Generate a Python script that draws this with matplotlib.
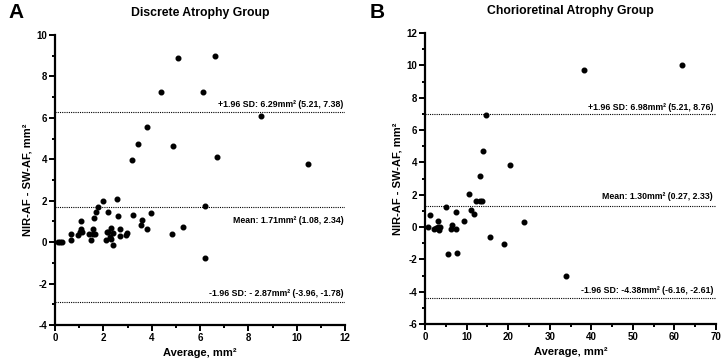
import matplotlib
matplotlib.use("Agg")
import matplotlib.pyplot as plt
from matplotlib.ticker import MultipleLocator

plt.rcParams['font.family'] = ['Liberation Sans', 'DejaVu Sans']
plt.rcParams['font.weight'] = 'bold'
plt.rcParams['axes.unicode_minus'] = False

# Panel A data: Discrete Atrophy Group
a_avg = [0.12, 0.21, 0.29, 0.65, 0.68, 0.95, 1.03, 1.06, 1.09, 1.12, 1.42, 1.50, 1.58, 1.58,
         1.66, 1.63, 1.69, 1.77, 1.99, 2.10, 2.16, 2.19, 2.21, 2.27, 2.33, 2.30, 2.38, 2.41,
         2.57, 2.60, 2.68, 2.68, 2.92, 2.97, 3.22, 3.58, 3.55, 3.80, 3.96, 4.83, 5.28, 6.19,
         6.22, 3.19, 3.43, 3.81, 4.39, 4.90, 5.08, 6.11, 6.61, 6.69, 8.54, 10.47]
a_diff = [0.0, 0.0, 0.0, 0.08, 0.40, 0.34, 0.48, 0.64, 1.02, 0.47, 0.40, 0.11, 0.62, 0.37,
          0.37, 1.16, 1.47, 1.68, 2.00, 0.10, 0.50, 1.45, 0.47, 0.26, 0.69, 0.16, 0.45, -0.16,
          2.07, 1.27, 0.65, 0.32, 0.34, 0.46, 1.30, 1.06, 0.82, 0.63, 1.42, 0.40, 0.73, 1.74,
          -0.77, 3.97, 4.74, 5.56, 7.26, 4.64, 8.87, 7.26, 8.98, 4.13, 6.10, 3.76]
a_mean, a_upper, a_lower = 1.71, 6.29, -2.87
a_labels = ["+1.96 SD: 6.29mm² (5.21, 7.38)",
            "Mean: 1.71mm² (1.08, 2.34)",
            "-1.96 SD: - 2.87mm² (-3.96, -1.78)"]

# Panel B data: Chorioretinal Atrophy Group
b_avg = [0.8, 1.13, 2.09, 2.57, 3.05, 3.05, 3.37, 3.70, 5.15, 5.46, 6.25, 6.57, 7.53, 7.53,
         7.69, 9.3, 10.6, 11.07, 11.7, 12.2, 13.16, 13.8, 13.16, 20.5, 15.7, 19.1, 23.7,
         14.7, 13.96, 38.2, 61.75, 34.0]
b_diff = [0.0, 0.73, -0.14, -0.05, 0.40, 0.0, -0.18, 0.0, 1.23, -1.66, -0.13, 0.15, 0.94, -0.13,
          -1.62, 0.38, 2.07, 1.08, 0.81, 1.62, 1.58, 1.58, 3.17, 3.83, -0.61, -1.08, 0.28,
          6.9, 4.69, 9.74, 10.0, -3.02]
b_mean, b_upper, b_lower = 1.30, 6.98, -4.38
b_labels = ["+1.96 SD: 6.98mm² (5.21, 8.76)",
            "Mean: 1.30mm² (0.27, 2.33)",
            "-1.96 SD: -4.38mm² (-6.16, -2.61)"]

fig = plt.figure(figsize=(7.24, 3.62), dpi=100)
axA = fig.add_axes([55/724, 37/362, 290/724, 290/362])
axB = fig.add_axes([425/724, 38/362, 291/724, 291/362])


def style(ax, xlim, ylim, xmaj, xmin, ymaj, ymin):
    ax.set_xlim(*xlim)
    ax.set_ylim(*ylim)
    ax.xaxis.set_major_locator(MultipleLocator(xmaj))
    ax.xaxis.set_minor_locator(MultipleLocator(xmin))
    ax.yaxis.set_major_locator(MultipleLocator(ymaj))
    ax.yaxis.set_minor_locator(MultipleLocator(ymin))
    for s in ['top', 'right']:
        ax.spines[s].set_visible(False)
    for s in ['left', 'bottom']:
        ax.spines[s].set_linewidth(1.6)
    ax.tick_params(which='major', length=4, width=1.4, labelsize=7, pad=1.5)
    ax.tick_params(which='minor', length=2.5, width=1.4)
    for lab in ax.get_xticklabels() + ax.get_yticklabels():
        lab.set_fontweight('bold')
    ax.set_xlabel("Average, mm²", fontsize=8, fontweight='bold', labelpad=4)
    ax.set_ylabel("NIR-AF - SW-AF, mm²", fontsize=8, fontweight='bold', labelpad=3)


def draw(ax, x, y, mean, up, lo, labels, offsets, xmax):
    ax.scatter(x, y, s=11, color='black', zorder=3, clip_on=False)
    for val, lab, off in zip([up, mean, lo], labels, offsets):
        ax.axhline(val, color='black', linestyle=(0, (1, 1)), linewidth=0.8)
        ax.annotate(lab, xy=(xmax, val), xytext=(0, off), textcoords='offset points',
                    ha='right', va='center', fontsize=6.3, fontweight='bold')


draw(axA, a_avg, a_diff, a_mean, a_upper, a_lower, a_labels, (5.5, -10, 5.5), 11.95)
style(axA, (0, 12), (-4, 10), 2, 1, 2, 1)
axA.set_title("Discrete Atrophy Group", fontsize=8.8, fontweight='bold', pad=14)

draw(axB, b_avg, b_diff, b_mean, b_upper, b_lower, b_labels, (5, 6.5, 5.5), 69.3)
style(axB, (0, 70), (-6, 12), 10, 5, 2, 1)
axB.set_title("Chorioretinal Atrophy Group", fontsize=8.8, fontweight='bold', pad=14)

fig.text(8/724, 1 - 13/362, "A", fontsize=15, fontweight='bold', va='center', ha='left')
fig.text(370/724, 1 - 13/362, "B", fontsize=15, fontweight='bold', va='center', ha='left')

fig.savefig("out.png", dpi=100)
